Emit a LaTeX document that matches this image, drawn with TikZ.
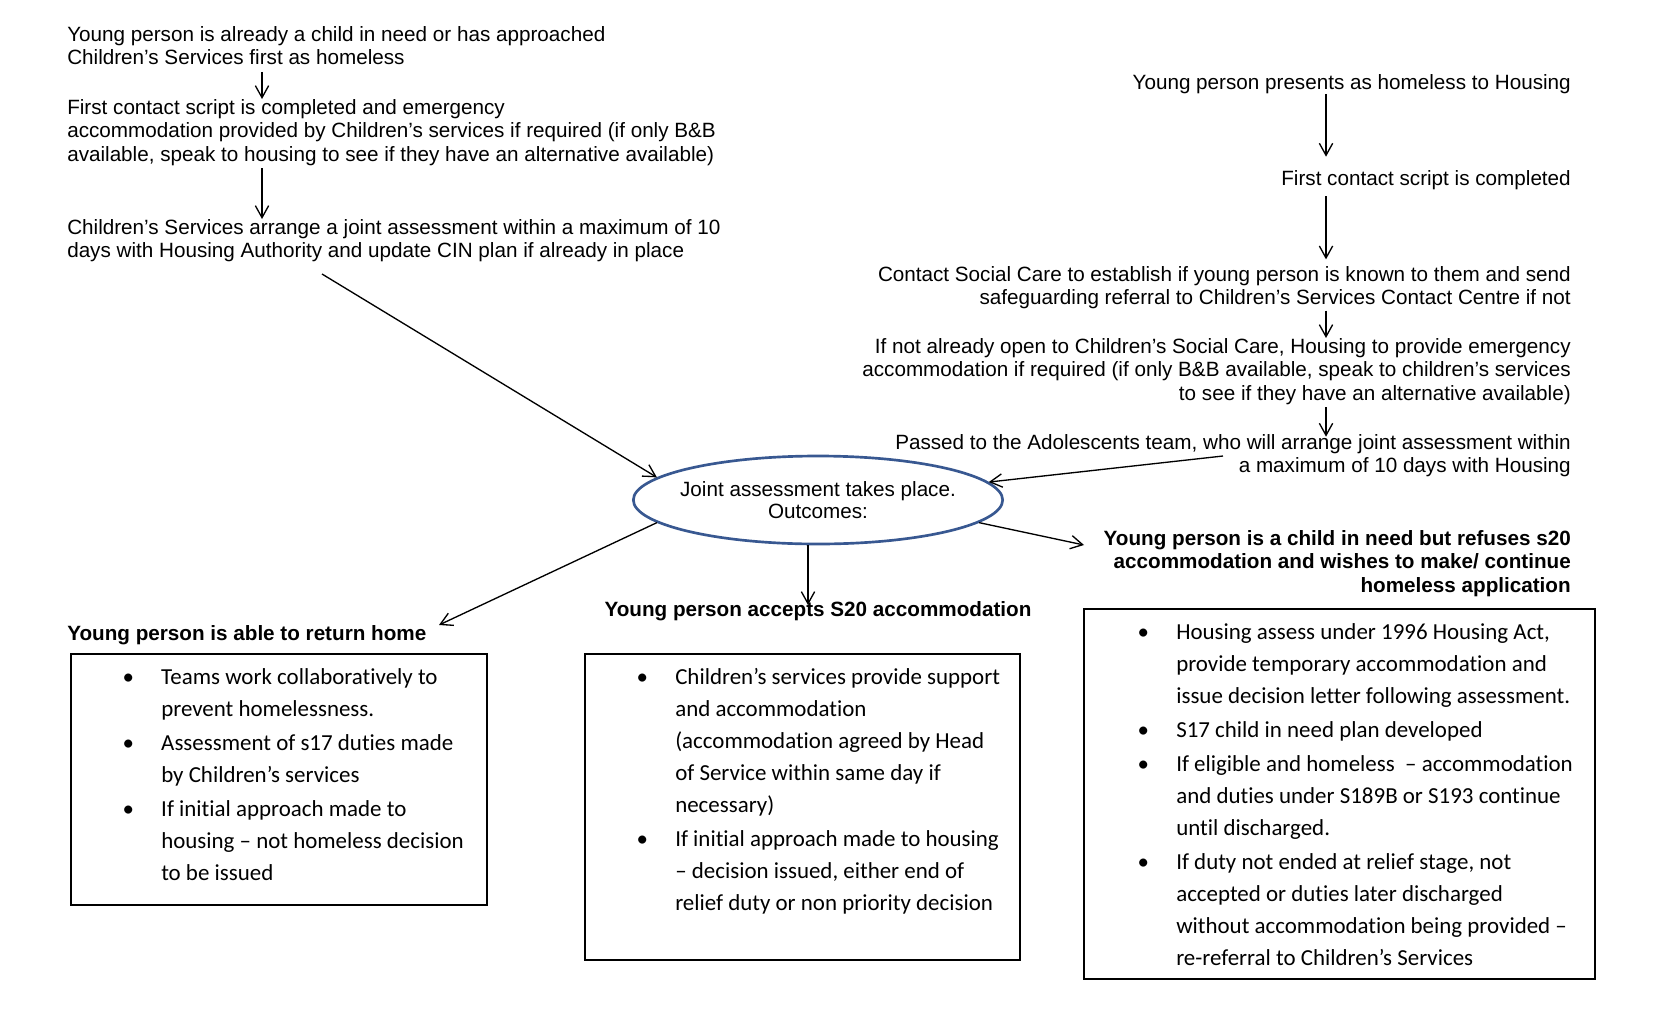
\documentclass[tikz,border=0pt]{standalone}
\usepackage{fontspec}
\setmainfont{Liberation Sans}[Ligatures=NoCommon]
\newfontfamily\calibrifont{Carlito}[Ligatures=NoCommon]
\usepackage{tikz}
\usetikzlibrary{arrows.meta,shapes.geometric}
\definecolor{ovalblue}{RGB}{56,88,145}

\newcommand{\bul}{\llap{\textbullet\hspace{20.5pt}}}

\begin{document}
\begin{tikzpicture}[x=0.75pt,y=0.75pt,yscale=-1,xscale=1,
    flowtext/.style={inner sep=0pt, font=\fontsize{15.5}{17.6}\selectfont},
    headtext/.style={inner sep=0pt, font=\fontsize{15.5}{17.6}\selectfont\bfseries},
    listtext/.style={inner sep=0pt, align=left, font=\calibrifont\fontsize{17.2}{24}\selectfont},
    listframe/.style={draw, line width=1.5pt, inner sep=0pt, anchor=north west},
    arr/.style={line width=1pt, -{Straight Barb[length=9pt,width=10pt]}}]
        \useasboundingbox (0,0) rectangle (1670,1021);
        \coordinate (axL) at (262,0);
        \coordinate (axR) at (1326,0);

        % children's services side
        \draw (67,26) node (cs1) [anchor=north west][flowtext][align=left] {Young person is already a child in need or has approached\\
        Children’s Services first as homeless};
        \draw (67,99) node (cs2) [anchor=north west][flowtext][align=left] {First contact script is completed and emergency\\
        accommodation provided by Children’s services if required (if only B\&B\\
        available, speak to housing to see if they have an alternative available)};
        \draw (67,219) node (cs3) [anchor=north west][flowtext][align=left] {Children’s Services arrange a joint assessment within a maximum of 10\\
        days with Housing Authority and update CIN plan if already in place};
        \coordinate (csout) at (322,274);

        % housing side
        \draw (1571,74) node (hs1) [anchor=north east][flowtext][align=right] {Young person presents as homeless to Housing};
        \draw (1571,170) node (hs2) [anchor=north east][flowtext][align=right] {First contact script is completed};
        \draw (1571,266) node (hs3) [anchor=north east][flowtext][align=right] {Contact Social Care to establish if young person is known to them and send\\
        safeguarding referral to Children’s Services Contact Centre if not};
        \draw (1571,338) node (hs4) [anchor=north east][flowtext][align=right] {If not already open to Children’s Social Care, Housing to provide emergency\\
        accommodation if required (if only B\&B available, speak to children’s services\\
        to see if they have an alternative available)};
        \draw (1571,434) node (hs5) [anchor=north east][flowtext][align=right] {Passed to the Adolescents team, who will arrange joint assessment within\\
        a maximum of 10 days with Housing};
        \coordinate (hsout) at (1223,456);

        % joint assessment
        \draw (818,500) node (joint) [ellipse, draw=ovalblue, line width=2pt, minimum width=277pt, minimum height=66pt, inner xsep=-5.5pt, inner ysep=0pt, align=center, font=\fontsize{15.5}{16.5}\selectfont] {Joint assessment takes place.\\ Outcomes:};

        % outcomes
        \draw (67,625) node (home) [anchor=north west][headtext] {Young person is able to return home};
        \draw (818,601) node (s20) [anchor=north][headtext] {Young person accepts S20 accommodation};
        \draw (1571,530) node (refuse) [anchor=north east][headtext][align=right] {Young person is a child in need but refuses s20\\
        accommodation and wishes to make/ continue\\
        homeless application};
        \coordinate (homeend) at (439,625);
        \coordinate (s20end) at (808,605);
        \coordinate (refuseend) at (1084,545);

        \draw (70,653) node (homebox) [listframe, minimum width=312pt, minimum height=188pt] {};
        \draw (161,668) node (homelist) [anchor=north west][listtext] {\bul Teams work collaboratively to\\
        prevent homelessness.\\[1.5pt]
        \bul Assessment of s17 duties made\\
        by Children’s services\\[1.5pt]
        \bul If initial approach made to\\
        housing – not homeless decision\\
        to be issued};

        \draw (584,653) node (s20box) [listframe, minimum width=326pt, minimum height=229.5pt] {};
        \draw (675,668) node (s20list) [anchor=north west][listtext] {\bul Children’s services provide support\\
        and accommodation\\
        (accommodation agreed by Head\\
        of Service within same day if\\
        necessary)\\[1.5pt]
        \bul If initial approach made to housing\\
        – decision issued, either end of\\
        relief duty or non priority decision};

        \draw (1083,608) node (refusebox) [listframe, minimum width=383pt, minimum height=277.5pt] {};
        \draw (1176,623) node (refuselist) [anchor=north west][listtext] {\bul Housing assess under 1996 Housing Act,\\
        provide temporary accommodation and\\
        issue decision letter following assessment.\\[1.5pt]
        \bul S17 child in need plan developed\\[1.5pt]
        \bul If eligible and homeless \ – accommodation\\
        and duties under S189B or S193 continue\\
        until discharged.\\[1.5pt]
        \bul If duty not ended at relief stage, not\\
        accepted or duties later discharged\\
        without accommodation being provided –\\
        re-referral to Children’s Services};

        % connectors
        \draw [arr, shorten <=5pt] (cs1.south -| axL) -- (cs2.north -| axL);
        \draw [arr, shorten <=2pt] (cs2.south -| axL) -- (cs3.north -| axL);
        \draw [arr] (csout) -- (joint.172);
        \draw [arr, shorten >=10pt] (hs1.south -| axR) -- (hs2.north -| axR);
        \draw [arr, shorten <=5pt, shorten >=5pt] (hs2.south -| axR) -- (hs3.north -| axR);
        \draw [arr, shorten <=1pt] (hs3.south -| axR) -- (hs4.north -| axR);
        \draw [arr, shorten <=2pt, shorten >=-2pt] (hs4.south -| axR) -- (hs5.north -| axR);
        \draw [arr] (hsout) -- (joint.6);
        \draw [arr] (joint.188) -- (homeend);
        \draw [arr] (joint.south -| s20end) -- (s20end);
        \draw [arr] (joint.352) -- (refuseend);
\end{tikzpicture}
\end{document}
